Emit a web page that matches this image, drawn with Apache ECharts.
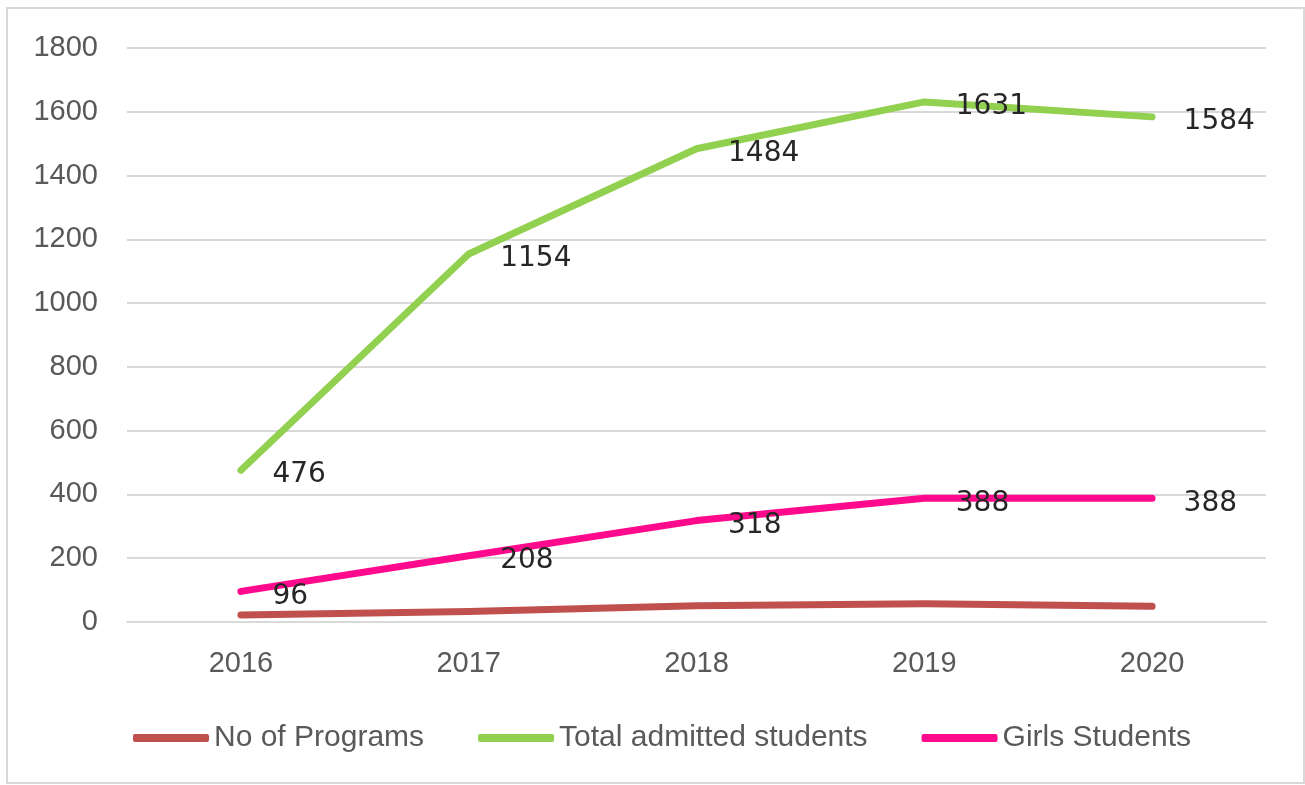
<!DOCTYPE html>
<html>
<head>
<meta charset="utf-8">
<script src="https://cdn.jsdelivr.net/npm/echarts@6/dist/echarts.min.js"></script>
<style>
html,body{margin:0;padding:0;background:#fff;}
#chart{width:1305px;height:785px;}
</style>
</head>
<body>
<div id="chart"></div>
<script>
const years = ['2016', '2017', '2018', '2019', '2020'];
const programs = [22, 33, 51, 57, 49];
const totalAdmitted = [476, 1154, 1484, 1631, 1584];
const girls = [96, 208, 318, 388, 388];
const seriesNames = ['No of Programs', 'Total admitted students', 'Girls Students'];

const chart = echarts.init(document.getElementById('chart'));
const labelStyle = {
  show: true,
  position: 'right',
  distance: 31,
  offset: [0, 5],
  fontFamily: 'DejaVu Sans',
  fontSize: 28,
  color: '#262626'
};
function lineSeries(name, data, color, withLabel) {
  return {
    name: name,
    type: 'line',
    data: data,
    showSymbol: true,
    symbol: 'circle',
    symbolSize: 1,
    lineStyle: { width: 7, color: color, cap: 'round', join: 'round' },
    itemStyle: { color: color },
    label: withLabel ? labelStyle : { show: false },
    emphasis: { disabled: true },
    animation: false
  };
}
chart.setOption({
  animation: false,
  backgroundColor: '#ffffff',
  graphic: [{
    type: 'rect',
    shape: { x: 7, y: 8, width: 1297, height: 775 },
    style: { fill: 'none', stroke: '#d9d9d9', lineWidth: 2 },
    z: -1
  }],
  grid: { left: 127, right: 39, top: 48, bottom: 163 },
  legend: {
    data: seriesNames,
    left: 128,
    top: 718,
    icon: 'roundRect',
    itemWidth: 76,
    itemHeight: 8,
    itemGap: 54,
    textStyle: { fontFamily: 'Liberation Sans', fontSize: 30, color: '#595959' }
  },
  xAxis: {
    type: 'category',
    data: years,
    boundaryGap: true,
    axisLine: { show: true, lineStyle: { color: '#d9d9d9', width: 2 } },
    axisTick: { show: false },
    axisLabel: { margin: 27, fontFamily: 'Liberation Sans', fontSize: 29, color: '#595959' }
  },
  yAxis: {
    type: 'value',
    min: 0,
    max: 1800,
    interval: 200,
    axisLine: { show: false },
    axisTick: { show: false },
    splitLine: { lineStyle: { color: '#d9d9d9', width: 2 } },
    axisLabel: {
      margin: 29, fontFamily: 'Liberation Sans', fontSize: 29, color: '#595959',
      formatter: function (v) { return String(v); }
    }
  },
  series: [
    lineSeries(seriesNames[0], programs, '#c0504d', false),
    lineSeries(seriesNames[1], totalAdmitted, '#92d050', true),
    lineSeries(seriesNames[2], girls, '#ff0a8c', true)
  ]
});
</script>
</body>
</html>
